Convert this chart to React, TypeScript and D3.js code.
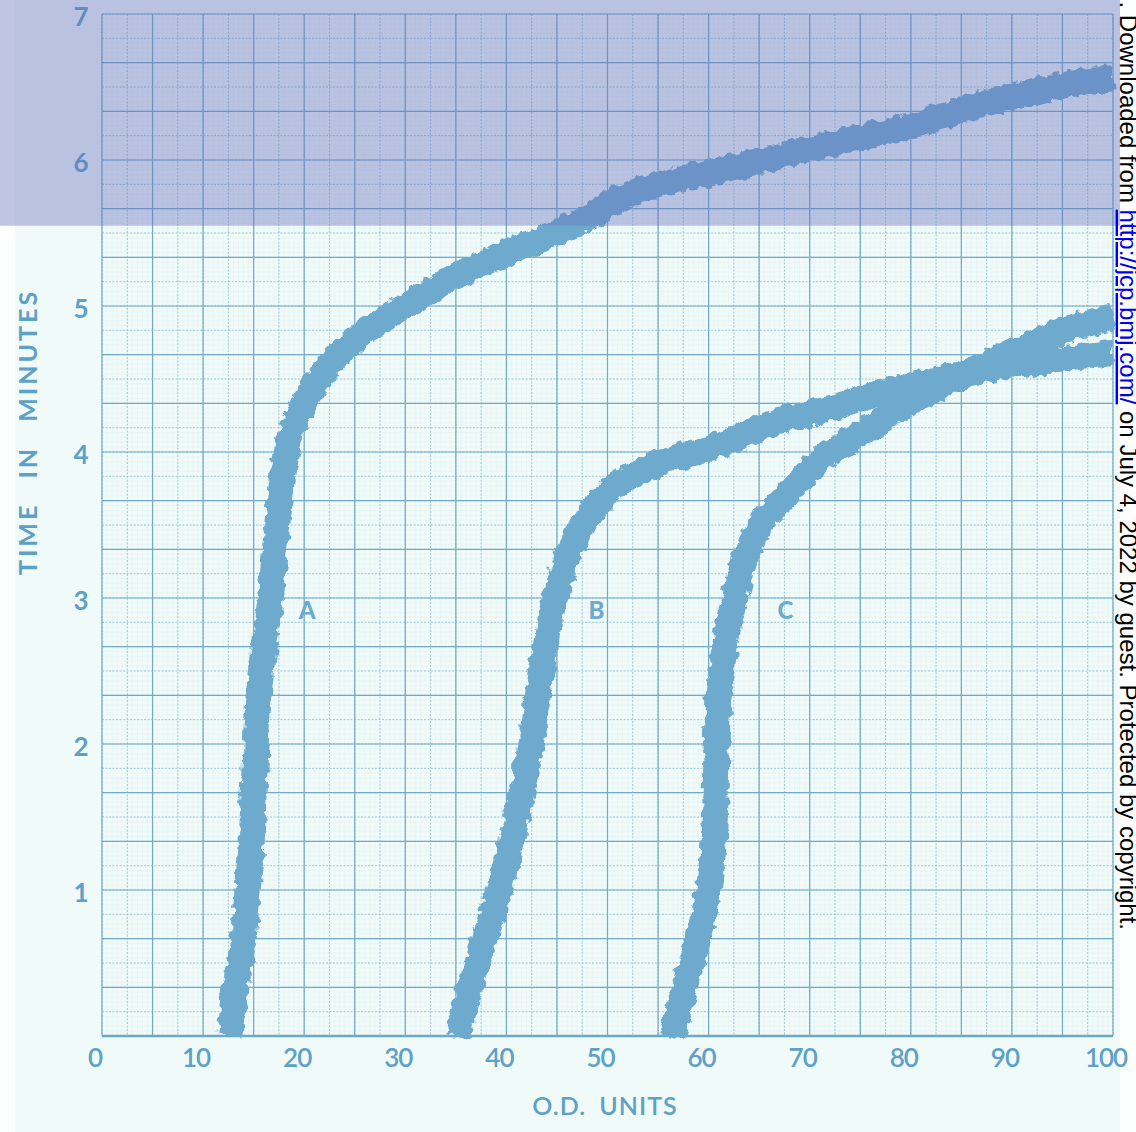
import * as d3 from 'd3'

const W = 1136
const H = 1132
const PLOT = { left: 102, right: 1113, top: 14, bottom: 1036 }

// O.D. units vs time in minutes
const CURVE_A: [number, number][] = [
  [12.7, 0], [13.2, 0.33], [14.0, 0.67], [14.4, 1.0], [14.8, 1.33], [15.0, 1.67],
  [15.2, 2.0], [15.5, 2.33], [16.0, 2.67], [16.7, 3.0], [17.1, 3.33], [17.6, 3.67],
  [18.3, 4.0], [18.9, 4.17], [19.9, 4.33], [21.9, 4.54], [23.5, 4.67], [25.8, 4.81],
  [28.8, 4.95], [31.5, 5.06], [34.4, 5.18], [37.7, 5.29], [41.6, 5.41], [45.5, 5.52],
  [48.5, 5.62], [51.0, 5.73], [56.6, 5.86], [62.4, 5.95], [68.2, 6.05], [74.2, 6.14],
  [80.0, 6.23], [85.9, 6.36], [91.8, 6.46], [97.6, 6.54], [100, 6.56],
]

const CURVE_B: [number, number][] = [
  [35.2, 0], [36.4, 0.33], [37.9, 0.67], [39.3, 1.0], [40.5, 1.33], [41.5, 1.67],
  [42.4, 2.0], [43.1, 2.33], [43.9, 2.67], [44.8, 3.0], [46.3, 3.33], [48.0, 3.56],
  [49.3, 3.67], [52.2, 3.83], [56.2, 3.95], [58.8, 4.0], [62.4, 4.08], [66.8, 4.21],
  [72.5, 4.31], [77.8, 4.42], [82.2, 4.49], [88.8, 4.58], [95.5, 4.64], [100, 4.68],
]

const CURVE_C: [number, number][] = [
  [56.4, 0], [57.6, 0.33], [59.0, 0.67], [60.0, 1.0], [60.5, 1.33], [60.7, 1.67],
  [60.8, 2.0], [61.0, 2.33], [61.6, 2.67], [62.6, 3.0], [63.9, 3.33], [65.7, 3.56],
  [67.2, 3.67], [70.3, 3.9], [72.1, 4.0], [75.2, 4.13], [78.7, 4.29], [83.6, 4.47],
  [88.4, 4.63], [92.8, 4.77], [96.3, 4.86], [100, 4.92],
]

const CURVES = [CURVE_A, CURVE_B, CURVE_C]
const CURVE_LABELS = ['A', 'B', 'C']
const LABEL_OD = [20.3, 48.9, 67.6]
const LABEL_TIME = 2.92

const OD_TICKS = [0, 10, 20, 30, 40, 50, 60, 70, 80, 90, 100]
const TIME_TICKS = [1, 2, 3, 4, 5, 6, 7]
const BAND_FROM = 5.55 // minutes, tinted part of the scan

const INK = '#5ea1c6'
const TRACE = '#6eaacd'
const FONT = 'Lato, "Open Sans", sans-serif'

export default function App() {
  const x = d3.scaleLinear().domain([0, 100]).range([PLOT.left, PLOT.right])
  const y = d3.scaleLinear().domain([0, 7]).range([PLOT.bottom, PLOT.top])

  const line = d3
    .line<[number, number]>()
    .x((d) => x(d[0]))
    .y((d) => y(d[1]))
    .curve(d3.curveMonotoneY)

  const fineX = d3.range(0, 100.01, 0.5)
  const fineY = d3.range(0, 7.001, 1 / 30)
  const midX = d3.range(0, 100.01, 2.5)
  const midY = d3.range(0, 7.001, 1 / 6)
  const majX = d3.range(0, 100.01, 5)
  const majY = d3.range(0, 7.001, 1 / 3)

  return (
    <>
      <style>{`body{margin:0}`}</style>
      <svg width={W} height={H} style={{ display: 'block' }}>
        <defs>
          <filter id="rough" x="-5%" y="-5%" width="110%" height="110%">
            <feTurbulence type="fractalNoise" baseFrequency="0.12" numOctaves={2} seed={4} result="n" />
            <feDisplacementMap in="SourceGraphic" in2="n" scale={10} xChannelSelector="R" yChannelSelector="G" />
          </filter>
        </defs>

        <rect width={W} height={H} fill="#fdfefe" />
        <rect x={15} y={0} width={1105} height={H} fill="#f0faf8" />

        {/* graph paper */}
        <g>
          {fineX.map((u) => (
            <line key={'fx' + u} x1={x(u)} x2={x(u)} y1={PLOT.top} y2={PLOT.bottom} stroke="#b5d8e3" strokeWidth={0.5} strokeOpacity={0.18} />
          ))}
          {fineY.map((t) => (
            <line key={'fy' + t} x1={PLOT.left} x2={PLOT.right} y1={y(t)} y2={y(t)} stroke="#b5d8e3" strokeWidth={0.5} strokeOpacity={0.18} />
          ))}
          {midX.map((u) => (
            <line key={'mx' + u} x1={x(u)} x2={x(u)} y1={PLOT.top} y2={PLOT.bottom} stroke="#94c4d8" strokeWidth={0.9} strokeDasharray="2 1.5" />
          ))}
          {midY.map((t) => (
            <line key={'my' + t} x1={PLOT.left} x2={PLOT.right} y1={y(t)} y2={y(t)} stroke="#94c4d8" strokeWidth={0.9} strokeDasharray="2 1.5" />
          ))}
          {majX.map((u) => (
            <line key={'Mx' + u} x1={x(u)} x2={x(u)} y1={PLOT.top} y2={PLOT.bottom} stroke="#72abc7" strokeWidth={1.2} />
          ))}
          {majY.map((t) => (
            <line key={'My' + t} x1={PLOT.left} x2={PLOT.right} y1={y(t)} y2={y(t)} stroke="#72abc7" strokeWidth={1.2} />
          ))}
          <line x1={PLOT.left} x2={PLOT.right} y1={y(0)} y2={y(0)} stroke="#6ea8c5" strokeWidth={2.5} />
        </g>

        {/* traces */}
        <g filter="url(#rough)">
          {CURVES.map((c, i) => (
            <path key={i} d={line(c) ?? ''} fill="none" stroke={TRACE} strokeWidth={26} strokeLinejoin="round" />
          ))}
        </g>

        {CURVE_LABELS.map((l, i) => (
          <text key={l} x={x(LABEL_OD[i])} y={y(LABEL_TIME) + 9} fill={TRACE} fontFamily={FONT} fontWeight={900} fontSize={24} textAnchor="middle">
            {l}
          </text>
        ))}

        {/* axes text */}
        {OD_TICKS.map((u) => (
          <text key={'xt' + u} x={x(u) - 7} y={PLOT.bottom + 31} fill={INK} fontFamily={FONT} fontWeight={600} fontSize={26} textAnchor="middle" letterSpacing={-1}>
            {u}
          </text>
        ))}
        {TIME_TICKS.map((t) => (
          <text key={'yt' + t} x={81} y={y(t) + 12} fill={INK} fontFamily={FONT} fontWeight={700} fontSize={26} textAnchor="middle">
            {t}
          </text>
        ))}
        <text x={605} y={1115} fill={INK} fontFamily={FONT} fontWeight={600} fontSize={25} textAnchor="middle" letterSpacing={1} wordSpacing={6}>
          O.D. UNITS
        </text>
        <text
          transform="translate(37, 432) rotate(-90)"
          fill={INK}
          fontFamily={FONT}
          fontWeight={700}
          fontSize={25}
          textAnchor="middle"
          letterSpacing={3}
          wordSpacing={15}
        >
          TIME IN MINUTES
        </text>

        {/* tinted band of the scanned page */}
        <rect x={0} y={0} width={1120} height={y(BAND_FROM)} fill="#6670bd" fillOpacity={0.4} />

        {/* repository stamp */}
        <text transform="translate(1120, 930) rotate(90)" fontFamily='"Liberation Sans", Arial, sans-serif' fontSize={24} fill="#000" textAnchor="end">
          . Downloaded from{' '}
          <tspan fill="#0000ee" textDecoration="underline">
            http://jcp.bmj.com/
          </tspan>{' '}
          on July 4, 2022 by guest. Protected by copyright.
        </text>
      </svg>
    </>
  )
}
